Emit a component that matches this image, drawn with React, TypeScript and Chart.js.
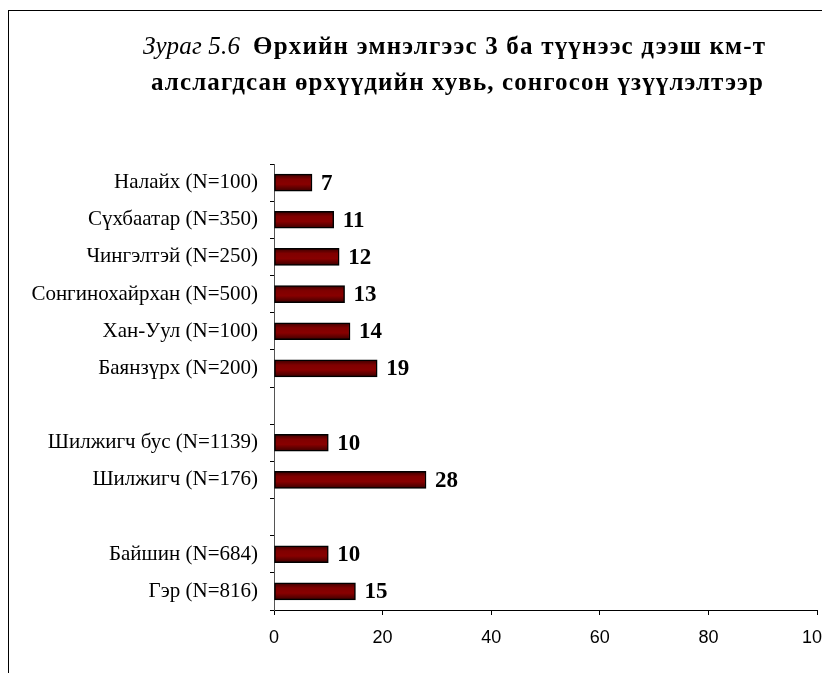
import React, { useEffect, useRef } from "react";
import { Chart, registerables } from "chart.js";

Chart.register(...registerables);

const categories: string[] = [
  "Налайх (N=100)",
  "Сүхбаатар (N=350)",
  "Чингэлтэй (N=250)",
  "Сонгинохайрхан (N=500)",
  "Хан-Уул (N=100)",
  "Баянзүрх (N=200)",
  "",
  "Шилжигч бус (N=1139)",
  "Шилжигч (N=176)",
  "",
  "Байшин (N=684)",
  "Гэр (N=816)",
];
const values: (number | null)[] = [7, 11, 12, 13, 14, 19, null, 10, 28, null, 10, 15];
const xTicks: number[] = [0, 20, 40, 60, 80, 100];
const titlePrefix = "Зураг 5.6";
const titleLine1 = "Өрхийн эмнэлгээс 3 ба түүнээс дээш км-т";
const titleLine2 = "алслагдсан өрхүүдийн хувь, сонгосон үзүүлэлтээр";

const SERIF = '"Liberation Serif", "Times New Roman", serif';
const SANS = '"Liberation Sans", Arial, sans-serif';
const BAR_T = 17;

function fitText(c: any, text: string, font: string, x: number, y: number, width: number) {
  c.font = font;
  c.letterSpacing = "0px";
  const w = c.measureText(text).width;
  const n = Math.max(1, text.length - 1);
  const ls = Math.max(-1, (width - w) / n);
  c.letterSpacing = ls.toFixed(2) + "px";
  c.textAlign = "left";
  c.fillText(text, x, y);
  c.letterSpacing = "0px";
}

const framePlugin = {
  id: "frameAndTitle",
  beforeDraw(chart: any) {
    const c = chart.ctx;
    c.save();
    c.fillStyle = "#ffffff";
    c.fillRect(0, 0, chart.width, chart.height);
    c.strokeStyle = "#000000";
    c.lineWidth = 1;
    c.strokeRect(0.5, 2.5, 2000, 2000);
    c.fillStyle = "#000";
    c.textBaseline = "alphabetic";
    fitText(c, titlePrefix, "italic 25px " + SERIF, 135, 46, 97);
    fitText(c, titleLine1, "bold 25px " + SERIF, 245, 46, 512);
    fitText(c, titleLine2, "bold 25px " + SERIF, 143, 82, 612);
    c.restore();
  },
  afterDatasetsDraw(chart: any) {
    const c = chart.ctx;
    const meta = chart.getDatasetMeta(0);
    c.save();
    c.font = "bold 23px " + SERIF;
    c.fillStyle = "#000";
    c.textAlign = "left";
    c.textBaseline = "middle";
    meta.data.forEach((el: any, i: number) => {
      const v = values[i];
      if (v == null) return;
      c.fillText(String(v), el.x + 9, el.y + 1);
    });
    c.restore();
  },
};

export default function App() {
  const ref = useRef<HTMLCanvasElement>(null);
  useEffect(() => {
    if (!ref.current) return;
    const chart = new Chart(ref.current, {
      type: "bar",
      data: {
        labels: categories,
        datasets: [
          {
            data: values,
            backgroundColor: (ctx: any) => {
              const ch = ctx.chart;
              const ys = ch.scales && ch.scales.y;
              if (!ys || ctx.dataIndex == null) return "#800000";
              const cy = ys.getPixelForValue(ctx.dataIndex);
              if (!isFinite(cy)) return "#800000";
              const g = ch.ctx.createLinearGradient(0, cy - BAR_T / 2, 0, cy + BAR_T / 2);
              g.addColorStop(0, "#3a0000");
              g.addColorStop(0.3, "#800000");
              g.addColorStop(0.6, "#880000");
              g.addColorStop(1, "#3a0000");
              return g;
            },
            borderColor: "#000000",
            borderWidth: 1.5,
            barThickness: BAR_T,
            borderSkipped: false,
          },
        ],
      },
      options: {
        indexAxis: "y",
        animation: false,
        responsive: false,
        maintainAspectRatio: false,
        layout: { padding: { top: 156, right: 91, left: 0, bottom: 0 } },
        plugins: {
          legend: { display: false },
          tooltip: { enabled: false },
          title: { display: false },
        },
        scales: {
          x: {
            min: 0,
            max: 100,
            afterBuildTicks: (scale: any) => {
              scale.ticks = xTicks.map((v) => ({ value: v }));
            },
            afterFit: (scale: any) => {
              scale.height = 63;
            },
            grid: {
              display: true,
              drawOnChartArea: false,
              drawTicks: true,
              tickLength: 5,
              color: "#000",
            },
            border: { display: true, color: "#000", width: 1 },
            ticks: {
              color: "#000",
              font: { family: SANS, size: 18 },
              padding: 12,
              maxRotation: 0,
            },
          },
          y: {
            afterFit: (scale: any) => {
              scale.width = 266;
            },
            grid: {
              display: true,
              offset: true,
              drawOnChartArea: false,
              drawTicks: true,
              tickLength: 4,
              color: "#000",
            },
            border: { display: true, color: "#555", width: 1 },
            ticks: {
              color: "#000",
              font: { family: SERIF, size: 21 },
              padding: 12,
              autoSkip: false,
            },
          },
        },
      },
      plugins: [framePlugin],
    });
    return () => chart.destroy();
  }, []);
  return (
    <div style={{ position: "relative", width: 822, height: 665, overflow: "hidden" }}>
      <canvas
        ref={ref}
        width={900}
        height={665}
        style={{ position: "absolute", left: 0, top: 0, width: 900, height: 665 }}
      />
    </div>
  );
}
